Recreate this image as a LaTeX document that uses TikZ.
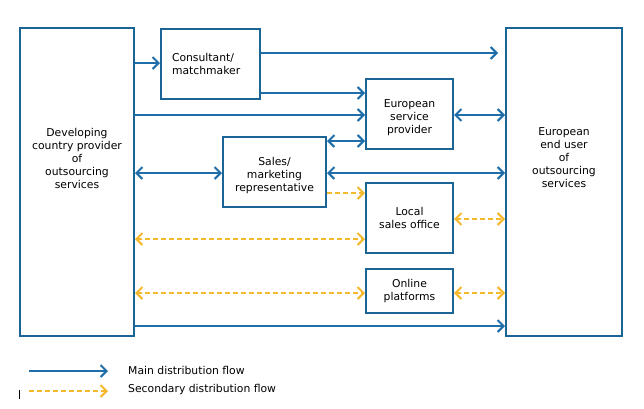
\documentclass[tikz,border=0pt]{standalone}
\usepackage{fontspec}
\setmainfont{DejaVu Sans}
\usetikzlibrary{arrows.meta}
\definecolor{flowblue}{HTML}{1F6EAA}
\definecolor{boxblue}{HTML}{1B6596}
\definecolor{flowgold}{HTML}{F4B82A}

\begin{document}
\begin{tikzpicture}[x=1pt, y=-1pt,
    font=\fontsize{10.8}{13}\selectfont,
    >={Straight Barb[length=6pt, width=12pt]},
    box/.style={draw=boxblue, line width=2pt, inner sep=0pt, align=center},
    main/.style={draw=flowblue, line width=2pt},
    second/.style={draw=flowgold, line width=2pt, dash pattern=on 5pt off 3pt}]

    \useasboundingbox (0,0) rectangle (644,408);

    % Providers and users
    \node[box, minimum width=114pt, minimum height=308pt,
        label={[yshift=24pt, align=center]center:Developing\\country provider\\of\\outsourcing\\services}]
        (dev) at (77,182) {};
    \node[box, minimum width=116pt, minimum height=308pt,
        label={[yshift=24pt, align=center]center:European\\end user\\of\\outsourcing\\services}]
        (eu) at (564,182) {};

    % Intermediaries
    \node[box, minimum width=99pt, minimum height=70pt, text width=77pt, align=left]
        (cons) at (210.5,64) {Consultant/\\matchmaker};
    \node[box, minimum width=87pt, minimum height=70pt,
        label={[yshift=-4pt, align=center]center:European\\service\\provider}]
        (esp) at (409.5,114) {};
    \node[box, minimum width=103pt, minimum height=70pt,
        label={[yshift=-4pt, align=center]center:Sales/\\marketing\\representative}]
        (sales) at (274.5,172) {};
    \node[box, minimum width=87pt, minimum height=70pt]
        (local) at (409.5,218) {Local\\sales office};
    \node[box, minimum width=87pt, minimum height=44pt]
        (online) at (409.5,291) {Online\\platforms};

    % Flow levels
    \coordinate (yA) at (0,53);
    \coordinate (yB) at (0,63);
    \coordinate (yC) at (0,93);
    \coordinate (yD) at (0,115);
    \coordinate (yE) at (0,141);
    \coordinate (yF) at (0,173);
    \coordinate (yG) at (0,193);
    \coordinate (yH) at (0,219);
    \coordinate (yI) at (0,239);
    \coordinate (yJ) at (0,293);
    \coordinate (yK) at (0,326);

    % Main flows
    \draw[main, ->] (dev.east |- yB) -- (cons.west |- yB);
    \draw[main, ->, shorten >=7pt] (cons.east |- yA) -- (eu.west |- yA);
    \draw[main, ->] (cons.east |- yC) -- (esp.west |- yC);
    \draw[main, ->] (dev.east |- yD) -- (esp.west |- yD);
    \draw[main, <->] (esp.east |- yD) -- (eu.west |- yD);
    \draw[main, <->] (sales.east |- yE) -- (esp.west |- yE);
    \draw[main, <->] (dev.east |- yF) -- (sales.west |- yF);
    \draw[main, <->] (sales.east |- yF) -- (eu.west |- yF);
    \draw[main, ->] (dev.east |- yK) -- (eu.west |- yK);

    % Secondary flows
    \draw[second, ->] (sales.east |- yG) -- (local.west |- yG);
    \draw[second, <->] (local.east |- yH) -- (eu.west |- yH);
    \draw[second, <->] (dev.east |- yI) -- (local.west |- yI);
    \draw[second, <->] (dev.east |- yJ) -- (online.west |- yJ);
    \draw[second, <->] (online.east |- yJ) -- (eu.west |- yJ);

    % Legend
    \coordinate (mainA) at (29,371);
    \coordinate (mainB) at (108,371);
    \coordinate (secA) at (29,391);
    \coordinate (secB) at (108,391);
    \draw[main, ->] (mainA) -- (mainB);
    \draw[second, ->] (secA) -- (secB);
    \node[anchor=west, inner sep=0pt] (mainlbl) at (128,370) {Main distribution flow};
    \node[anchor=west, inner sep=0pt] (seclbl) at (128,390) {Secondary distribution flow};
    \draw[black, line width=1pt] (19,390) -- (19,399);

\end{tikzpicture}
\end{document}
